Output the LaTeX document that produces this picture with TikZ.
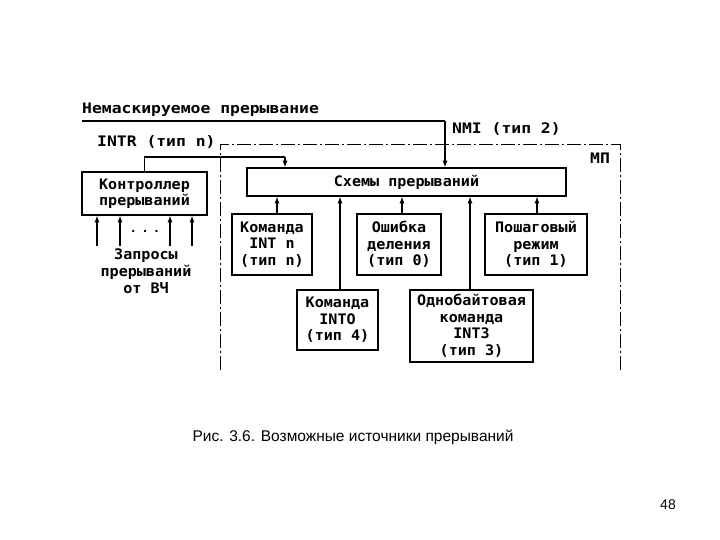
\documentclass[tikz,border=0pt]{standalone}
\usepackage{fontspec}
\setmainfont{Liberation Sans}
\newfontfamily\dmono[FakeStretch=1.13]{DejaVu Sans Mono}
\newfontfamily\bmono[FakeStretch=1.04]{DejaVu Sans Mono}
\begin{document}
\begin{tikzpicture}[x=1pt,y=-1pt,
  bx/.style={draw,line width=1.8pt,align=center,font=\bmono\bfseries\fontsize{14.5}{16.5}\selectfont,inner sep=0pt},
  lbl/.style={font=\dmono\bfseries\fontsize{14.5}{16.5}\selectfont,inner sep=0pt},
  ln/.style={line width=1.2pt},
  ar/.style={line width=1.2pt,-latex}]
\useasboundingbox (0,0) rectangle (720,540);
% frame MP
\draw[line width=1pt,dash pattern=on 14pt off 3pt on 2pt off 3pt] (220,370) -- (220,145) -- (620,145) -- (620,370);
\node[lbl] (mp) at (600,158) {МП};
% boxes
\node[bx,minimum width=125,minimum height=43] (ctl) at (144.5,193.5) {Контроллер\\прерываний};
\node[bx,minimum width=319,minimum height=28] (sch) at (406.5,182) {Схемы прерываний};
\node[bx,minimum width=80,minimum height=61] (intn) at (272,244.5) {Команда\\INT n\\(тип n)};
\node[bx,minimum width=84,minimum height=61] (err) at (399,244.5) {Ошибка\\деления\\(тип 0)};
\node[bx,minimum width=102,minimum height=61] (step) at (536,244.5) {Пошаговый\\режим\\(тип 1)};
\node[bx,minimum width=81,minimum height=60] (into) at (337.5,320) {Команда\\INTO\\(тип 4)};
\node[bx,minimum width=123,minimum height=72] (int3) at (471.5,326) {Однобайтовая\\команда\\INT3\\(тип 3)};
% labels
\node[lbl,anchor=west] (nmt) at (82,110) {Немаскируемое прерывание};
\node[lbl,anchor=west] (nmi) at (452,129) {NMI (тип 2)};
\node[lbl,anchor=west] (intr) at (97,142) {INTR (тип n)};
\node[lbl,align=center,font=\bmono\bfseries\fontsize{14.5}{17}\selectfont] (req) at (146,271) {Запросы\\прерываний\\от ВЧ};
% NMI line
\coordinate (n0) at (82,121);
\coordinate (n1) at (445,121);
\draw[ln] (n0) -- (n1);
\draw[ar] (n1) -- (sch.north -| n1);
% INTR line
\coordinate (c1) at (144.5,157);
\coordinate (c2) at (285,157);
\draw[ln] (ctl.north) -- (c1) -- (c2);
\draw[ar] (c2) -- (sch.north -| c2);
% up arrows into sch
\foreach \n/\x in {intn/277,err/402,step/537,into/340,int3/470}
  \draw[ar] (\n.north -| \x,0) -- (sch.south -| \x,0);
% requests
\foreach \x in {97,120,170,192}
  \draw[ar] (\x,246) -- (ctl.south -| \x,0);
\node[lbl,font=\bfseries\fontsize{14}{16}\selectfont] (dots) at (145,231) {.\;\;.\;\;.};
% caption
\node[font=\fontsize{15.5}{18}\selectfont] (cap) at (353,437) {Рис. 3.6. Возможные источники прерываний};
\node[font=\fontsize{14}{16}\selectfont] (pg) at (668,505) {48};
\end{tikzpicture}
\end{document}
